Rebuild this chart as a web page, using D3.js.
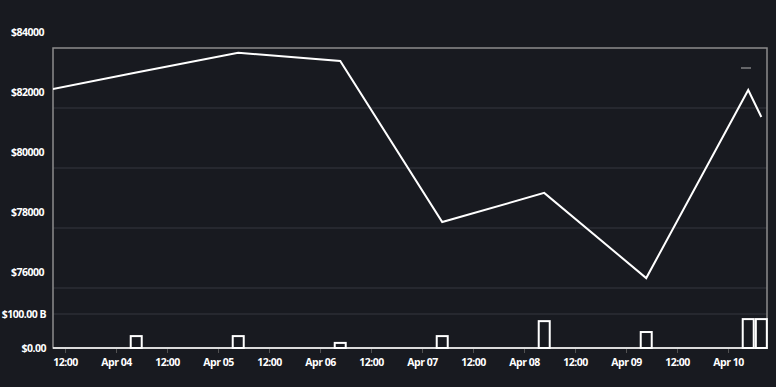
<html>
<script src='https://d3js.org/d3.v7.min.js'></script>
<style>
  body {margin:0; background:#181a20;}
  text {font-family:"Open Sans"; font-weight:bold; fill:#fff; letter-spacing:-0.5px;}
</style>
<body>
<svg id="chart" width=776 height=387></svg>
<script>
// daily points (time, close price, volume)
var times = ["2024-04-03T04:45","2024-04-04T04:45","2024-04-05T04:45","2024-04-06T04:45","2024-04-07T04:45",
             "2024-04-08T04:45","2024-04-09T04:45","2024-04-10T04:45","2024-04-10T07:50"];
var prices = [82510, 83180, 83840, 83570, 78200, 79170, 76330, 82600, 81700];
var volumes = [null, 35e9, 35e9, 15e9, 35e9, 79e9, 47e9, 85e9, 85e9];
var priceTicks = [76000, 78000, 80000, 82000, 84000];
var volTicks = [0, 100e9];

var parse = d3.timeParse("%Y-%m-%dT%H:%M");
var data = times.map(function(t, i) { return {t: parse(t), p: prices[i], v: volumes[i]}; });

var svg = d3.select("#chart");
var L = 53, R = 767, T = 48, B = 348;

var x = d3.scaleTime().domain([parse("2024-04-03T09:10"), parse("2024-04-10T09:10")]).range([L, R]);
var y = d3.scaleLinear().domain([76000, 84000]).range([288, 48]);
var yv = d3.scaleLinear().domain([0, 100e9]).range([B, 314]);

// grid
svg.selectAll(".pg").data(priceTicks.slice(0, 4)).enter().append("line")
  .attr("x1", L).attr("x2", R).attr("y1", d => y(d)).attr("y2", d => y(d))
  .style("stroke", "#2b2e35").style("stroke-width", 1.5);
svg.append("line").attr("x1", L).attr("x2", R).attr("y1", yv(100e9)).attr("y2", yv(100e9))
  .style("stroke", "#2b2e35").style("stroke-width", 1.5);

// price labels sit above their gridline
svg.selectAll(".pl").data(priceTicks).enter().append("text")
  .attr("x", 44).attr("y", d => y(d) - 16).attr("dy", "0.35em")
  .attr("text-anchor", "end").style("font-size", "10.5px")
  .text(d => "$" + d);
svg.selectAll(".vl").data(volTicks).enter().append("text")
  .attr("x", 46).attr("y", d => yv(d)).attr("dy", "0.35em")
  .attr("text-anchor", "end").style("font-size", "10.5px")
  .text(d => d == 0 ? "$0.00" : "$" + (d / 1e9).toFixed(2) + " B");

// frame
svg.append("rect").attr("x", L).attr("y", T).attr("width", R - L).attr("height", B - T)
  .style("fill", "none").style("stroke", "#8c8c8c").style("stroke-width", 1.5);

svg.append("clipPath").attr("id", "clip").append("rect")
  .attr("x", L).attr("y", T).attr("width", R - L).attr("height", B - T);

// volume bars
svg.append("g").selectAll("rect").data(data.filter(d => d.v != null)).enter().append("rect")
  .attr("x", d => x(d.t) - 5.5).attr("width", 11)
  .attr("y", d => yv(d.v)).attr("height", d => B - yv(d.v))
  .style("fill", "#181a20").style("stroke", "#fff").style("stroke-width", 2);

// price line
svg.append("path").datum(data).attr("clip-path", "url(#clip)")
  .attr("d", d3.line().x(d => x(d.t)).y(d => y(d.p)))
  .style("fill", "none").style("stroke", "#fff").style("stroke-width", 2);

// x axis
var xa = svg.append("g").attr("transform", "translate(0," + B + ")")
  .call(d3.axisBottom(x).ticks(d3.timeHour.every(12)).tickSize(5).tickPadding(6)
    .tickFormat(function(d) { return d.getHours() == 0 ? d3.timeFormat("%b %d")(d) : d3.timeFormat("%H:%M")(d); }));
xa.select(".domain").remove();
xa.selectAll("line").style("stroke", "#555").attr("y1", 1);
xa.selectAll("text").style("font-size", "10.5px").attr("fill", "#fff");
svg.append("line").attr("x1", L).attr("x2", R).attr("y1", B).attr("y2", B)
  .style("stroke", "#fff").style("stroke-width", 1.5);

// small marker top right
svg.append("line").attr("x1", 741).attr("x2", 751).attr("y1", 68).attr("y2", 68)
  .style("stroke", "#9a9a9a").style("stroke-width", 1.2);
</script>
</body>
</html>
